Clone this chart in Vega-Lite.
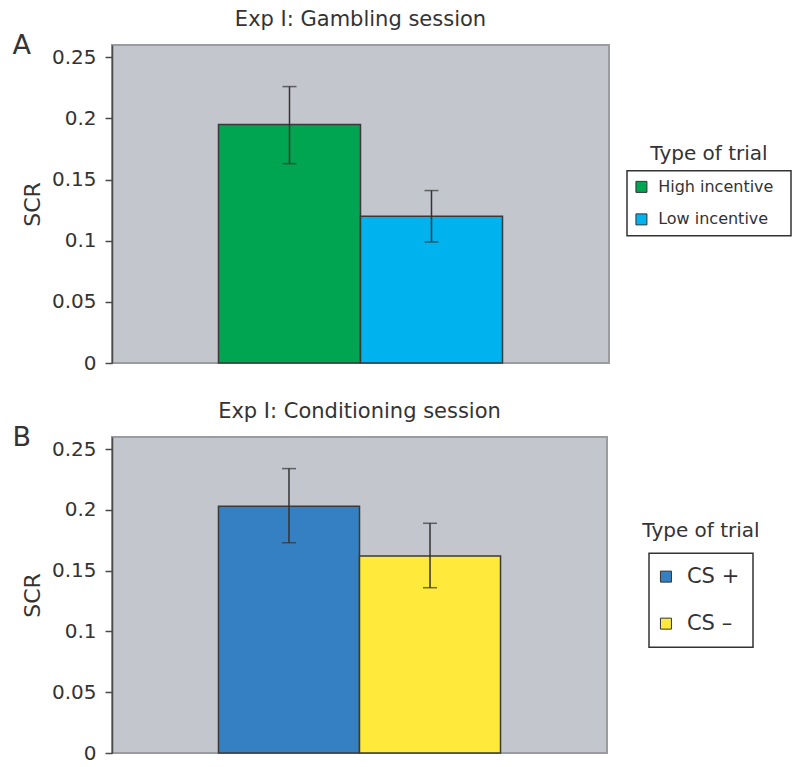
{
  "$schema": "https://vega.github.io/schema/vega-lite/v6.json",
  "background": "white",
  "padding": {"left": 12, "top": 8, "right": 2, "bottom": 4},
  "datasets": {
    "gamb": [
      {"trial": "High incentive", "scr": 0.195, "lo": 0.163, "hi": 0.226},
      {"trial": "Low incentive", "scr": 0.12, "lo": 0.099, "hi": 0.141}
    ],
    "cond": [
      {"trial": "CS +", "scr": 0.203, "lo": 0.173, "hi": 0.234},
      {"trial": "CS –", "scr": 0.162, "lo": 0.136, "hi": 0.189}
    ]
  },
  "config": {
    "font": "DejaVu Sans",
    "title": {"fontSize": 21, "fontWeight": "normal", "color": "#333333", "offset": 15},
    "axis": {"grid": false},
    "view": {"stroke": null},
    "concat": {"spacing": 26}
  },
  "resolve": {"scale": {"color": "independent"}},
  "spacing": 26,
  "vconcat": [
    {
      "title": {"text": "A", "orient": "left", "angle": 0, "anchor": "end", "fontSize": 27, "dy": 25, "offset": -29, "color": "#333333"},
      "spacing": 16,
      "center": true,
      "hconcat": [
        {
          "width": 497,
          "height": 318,
          "title": "Exp I: Gambling session",
          "data": {"name": "gamb"},
          "view": {"fill": "#c3c6cd", "stroke": "#9a9ca1", "strokeWidth": 2},
          "encoding": {
            "x": {"field": "trial", "type": "nominal", "sort": null, "axis": null, "scale": {"paddingInner": 0, "paddingOuter": 0.75}}
          },
          "layer": [
            {
              "mark": {"type": "bar", "stroke": "#3a3a3a", "strokeWidth": 1.5},
              "encoding": {
                "y": {"field": "scr", "type": "quantitative", "scale": {"domain": [0, 0.25]},
                  "axis": {"title": "SCR", "values": [0, 0.05, 0.1, 0.15, 0.2, 0.25], "format": "~g", "labelFontSize": 20, "labelColor": "#333333", "titleFontSize": 22, "titleFontWeight": "normal", "titleColor": "#333333", "titlePadding": 7, "domainColor": "#4a4a4a", "domainWidth": 1.5, "tickColor": "#4a4a4a", "tickWidth": 1.5, "tickSize": 7, "labelPadding": 9}},
                "color": {"field": "trial", "type": "nominal", "legend": null, "scale": {"domain": ["High incentive", "Low incentive"], "range": ["#00a551", "#00b3ef"]}}
              }
            },
            {
              "mark": {"type": "rule", "color": "#333333", "strokeWidth": 1.5},
              "encoding": {"y": {"field": "lo", "type": "quantitative"}, "y2": {"field": "hi"}}
            },
            {
              "mark": {"type": "tick", "color": "#333333", "thickness": 1.5, "size": 14},
              "encoding": {"y": {"field": "lo", "type": "quantitative"}}
            },
            {
              "mark": {"type": "tick", "color": "#333333", "thickness": 1.5, "size": 14},
              "encoding": {"y": {"field": "hi", "type": "quantitative"}}
            }
          ]
        },
        {
          "width": 164,
          "height": 65,
          "title": {"text": "Type of trial", "offset": 7, "fontSize": 20},
          "data": {"name": "gamb"},
          "view": {"fill": "white", "stroke": "#333333", "strokeWidth": 1.5},
          "encoding": {
            "y": {"field": "trial", "type": "nominal", "sort": null, "axis": null, "scale": {"paddingInner": 0, "paddingOuter": 0.05}}
          },
          "layer": [
            {
              "mark": {"type": "square", "size": 121, "opacity": 1, "stroke": "#333333", "strokeWidth": 1},
              "encoding": {
                "x": {"datum": 0.088, "type": "quantitative", "scale": {"domain": [0, 1]},
                  "axis": {"orient": "bottom", "domain": false, "ticks": false, "labels": false, "grid": false, "title": " ", "titleFontSize": 10, "titlePadding": 2}},
                "color": {"field": "trial", "type": "nominal", "legend": null}
              }
            },
            {
              "mark": {"type": "text", "align": "left", "baseline": "middle", "fontSize": 16, "color": "#333333"},
              "encoding": {
                "x": {"datum": 0.19, "type": "quantitative"},
                "text": {"field": "trial"}
              }
            }
          ]
        }
      ]
    },
    {
      "title": {"text": "B", "orient": "left", "angle": 0, "anchor": "end", "fontSize": 27, "dy": 25, "offset": -29, "color": "#333333"},
      "spacing": 33,
      "center": true,
      "hconcat": [
        {
          "width": 495,
          "height": 316,
          "title": "Exp I: Conditioning session",
          "data": {"name": "cond"},
          "view": {"fill": "#c3c6cd", "stroke": "#9a9ca1", "strokeWidth": 2},
          "encoding": {
            "x": {"field": "trial", "type": "nominal", "sort": null, "axis": null, "scale": {"paddingInner": 0, "paddingOuter": 0.755}}
          },
          "layer": [
            {
              "mark": {"type": "bar", "stroke": "#3a3a3a", "strokeWidth": 1.5},
              "encoding": {
                "y": {"field": "scr", "type": "quantitative", "scale": {"domain": [0, 0.25]},
                  "axis": {"title": "SCR", "values": [0, 0.05, 0.1, 0.15, 0.2, 0.25], "format": "~g", "labelFontSize": 20, "labelColor": "#333333", "titleFontSize": 22, "titleFontWeight": "normal", "titleColor": "#333333", "titlePadding": 7, "domainColor": "#4a4a4a", "domainWidth": 1.5, "tickColor": "#4a4a4a", "tickWidth": 1.5, "tickSize": 7, "labelPadding": 9}},
                "color": {"field": "trial", "type": "nominal", "legend": null, "scale": {"domain": ["CS +", "CS –"], "range": ["#3580c2", "#ffe93a"]}}
              }
            },
            {
              "mark": {"type": "rule", "color": "#333333", "strokeWidth": 1.5},
              "encoding": {"y": {"field": "lo", "type": "quantitative"}, "y2": {"field": "hi"}}
            },
            {
              "mark": {"type": "tick", "color": "#333333", "thickness": 1.5, "size": 14},
              "encoding": {"y": {"field": "lo", "type": "quantitative"}}
            },
            {
              "mark": {"type": "tick", "color": "#333333", "thickness": 1.5, "size": 14},
              "encoding": {"y": {"field": "hi", "type": "quantitative"}}
            }
          ]
        },
        {
          "width": 104,
          "height": 94,
          "title": {"text": "\u00a0", "fontSize": 16, "subtitle": "Type of trial", "subtitleFontSize": 20, "subtitleColor": "#333333", "subtitlePadding": 4, "offset": 12},
          "data": {"name": "cond"},
          "view": {"fill": "white", "stroke": "#333333", "strokeWidth": 1.5},
          "encoding": {
            "y": {"field": "trial", "type": "nominal", "sort": null, "axis": null, "scale": {"paddingInner": 0, "paddingOuter": 0.03}}
          },
          "layer": [
            {
              "mark": {"type": "square", "size": 121, "opacity": 1, "stroke": "#333333", "strokeWidth": 1},
              "encoding": {
                "x": {"datum": 0.163, "type": "quantitative", "scale": {"domain": [0, 1]}, "axis": null},
                "color": {"field": "trial", "type": "nominal", "legend": null}
              }
            },
            {
              "mark": {"type": "text", "align": "left", "baseline": "middle", "fontSize": 21, "color": "#333333"},
              "encoding": {
                "x": {"datum": 0.365, "type": "quantitative"},
                "text": {"field": "trial"}
              }
            }
          ]
        }
      ]
    }
  ]
}
